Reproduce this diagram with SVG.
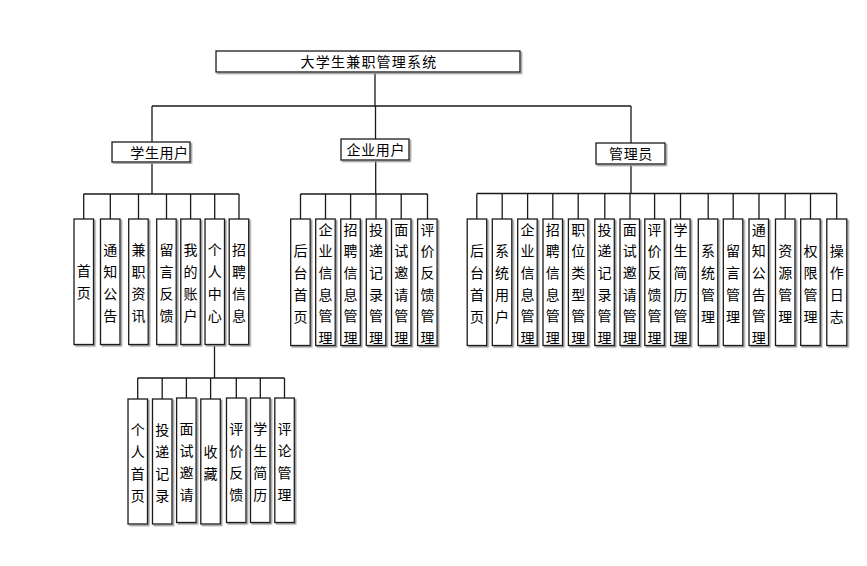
<svg xmlns="http://www.w3.org/2000/svg" width="867" height="566" viewBox="0 0 867 566">
<defs>
<filter id="ds" x="-20%" y="-5%" width="140%" height="115%">
<feDropShadow dx="1.5" dy="1.5" stdDeviation="0.4" flood-color="#9a9a9a" flood-opacity="1"/>
</filter>
<style>
rect.b{fill:#fff;stroke:#1a1a1a;stroke-width:1.3;filter:url(#ds)}
text{font-family:"Noto Sans CJK SC","Noto Sans",sans-serif;font-size:14px;fill:#000;text-anchor:middle}
text.h{letter-spacing:0.6px}
text.t{letter-spacing:1.2px}
#connectors path{fill:none;stroke:#1a1a1a;stroke-width:1.3}
</style>
</defs>
<rect x="0" y="0" width="867" height="566" fill="#fff"/>

<g id="connectors">
<path d="M375,72V106M152,106H631M152,106V142M375.5,106V139M631,106V143"/>
<path d="M152,162V194M83.5,194H239M83.7,194V219M110.3,194V219M138.5,194V219M166.5,194V219M190.6,194V219M214.7,194V219M239,194V219"/>
<path d="M214.5,344.5V378M137.7,378H284.5M137.7,378V399M162.2,378V399M186.4,378V399M210.6,378V399M236.3,378V399M260.3,378V399M284.5,378V399"/>
<path d="M375.7,160V194M300.5,194H427.5M300.5,194V219M325.5,194V219M350.6,194V219M376,194V219M401.2,194V219M427.5,194V219"/>
<path d="M631,164V193.5M476.8,193.5H836.7M476.8,193.5V219M502.2,193.5V219M527.6,193.5V219M552.8,193.5V219M578.2,193.5V219M604.8,193.5V219M630,193.5V219M654.6,193.5V219M680.5,193.5V219M708.2,193.5V219M733.2,193.5V219M759,193.5V219M785.2,193.5V219M810.5,193.5V219M836.7,193.5V219"/>
</g>

<g id="root"><rect class="b" x="216" y="51" width="304" height="21"/><text class="t" x="369" y="67">大学生兼职管理系统</text></g>

<g id="student"><rect class="b" x="112" y="142" width="78" height="20"/><text class="h" x="159.5" y="157.5">学生用户</text></g>
<g id="company"><rect class="b" x="341" y="139" width="68" height="21"/><text class="h" x="375.8" y="155">企业用户</text></g>
<g id="admin"><rect class="b" x="596" y="143" width="69" height="21"/><text class="h" x="631" y="159">管理员</text></g>

<!-- student children -->
<g id="s1"><rect class="b" x="74" y="219" width="19.5" height="125.5"/><text x="83.7" y="276"><tspan x="83.7">首</tspan><tspan x="83.7" dy="22">页</tspan></text></g>
<g id="s2"><rect class="b" x="100.5" y="219" width="19.5" height="125.5"/><text x="110.3" y="255"><tspan x="110.3">通</tspan><tspan x="110.3" dy="22">知</tspan><tspan x="110.3" dy="22">公</tspan><tspan x="110.3" dy="22">告</tspan></text></g>
<g id="s3"><rect class="b" x="128.7" y="219" width="19.5" height="125.5"/><text x="138.5" y="255"><tspan x="138.5">兼</tspan><tspan x="138.5" dy="22">职</tspan><tspan x="138.5" dy="22">资</tspan><tspan x="138.5" dy="22">讯</tspan></text></g>
<g id="s4"><rect class="b" x="156.7" y="219" width="19.5" height="125.5"/><text x="166.5" y="255"><tspan x="166.5">留</tspan><tspan x="166.5" dy="22">言</tspan><tspan x="166.5" dy="22">反</tspan><tspan x="166.5" dy="22">馈</tspan></text></g>
<g id="s5"><rect class="b" x="180.8" y="219" width="19.5" height="125.5"/><text x="190.6" y="255"><tspan x="190.6">我</tspan><tspan x="190.6" dy="22">的</tspan><tspan x="190.6" dy="22">账</tspan><tspan x="190.6" dy="22">户</tspan></text></g>
<g id="s6"><rect class="b" x="205" y="219" width="19.5" height="125.5"/><text x="214.7" y="255"><tspan x="214.7">个</tspan><tspan x="214.7" dy="22">人</tspan><tspan x="214.7" dy="22">中</tspan><tspan x="214.7" dy="22">心</tspan></text></g>
<g id="s7"><rect class="b" x="229.2" y="219" width="19.5" height="125.5"/><text x="239" y="255"><tspan x="239">招</tspan><tspan x="239" dy="22">聘</tspan><tspan x="239" dy="22">信</tspan><tspan x="239" dy="22">息</tspan></text></g>

<!-- personal center children -->
<g id="p1"><rect class="b" x="128" y="399" width="19.5" height="125"/><text x="137.7" y="434.5"><tspan x="137.7">个</tspan><tspan x="137.7" dy="22">人</tspan><tspan x="137.7" dy="22">首</tspan><tspan x="137.7" dy="22">页</tspan></text></g>
<g id="p2"><rect class="b" x="152.5" y="399" width="19.5" height="125"/><text x="162.2" y="434.5"><tspan x="162.2">投</tspan><tspan x="162.2" dy="22">递</tspan><tspan x="162.2" dy="22">记</tspan><tspan x="162.2" dy="22">录</tspan></text></g>
<g id="p3"><rect class="b" x="176.6" y="398" width="19.5" height="124.5"/><text x="186.4" y="433.5"><tspan x="186.4">面</tspan><tspan x="186.4" dy="22">试</tspan><tspan x="186.4" dy="22">邀</tspan><tspan x="186.4" dy="22">请</tspan></text></g>
<g id="p4"><rect class="b" x="200.8" y="399" width="19.5" height="125"/><text x="210.6" y="456.5"><tspan x="210.6">收</tspan><tspan x="210.6" dy="22">藏</tspan></text></g>
<g id="p5"><rect class="b" x="226.5" y="398" width="19.5" height="124.5"/><text x="236.3" y="433.5"><tspan x="236.3">评</tspan><tspan x="236.3" dy="22">价</tspan><tspan x="236.3" dy="22">反</tspan><tspan x="236.3" dy="22">馈</tspan></text></g>
<g id="p6"><rect class="b" x="250.5" y="398" width="19.5" height="124.5"/><text x="260.3" y="433.5"><tspan x="260.3">学</tspan><tspan x="260.3" dy="22">生</tspan><tspan x="260.3" dy="22">简</tspan><tspan x="260.3" dy="22">历</tspan></text></g>
<g id="p7"><rect class="b" x="274.8" y="398" width="19.5" height="124.5"/><text x="284.5" y="433.5"><tspan x="284.5">评</tspan><tspan x="284.5" dy="22">论</tspan><tspan x="284.5" dy="22">管</tspan><tspan x="284.5" dy="22">理</tspan></text></g>

<!-- company children -->
<g id="c1"><rect class="b" x="290.7" y="219" width="19.5" height="126.5"/><text x="300.5" y="256"><tspan x="300.5">后</tspan><tspan x="300.5" dy="22">台</tspan><tspan x="300.5" dy="22">首</tspan><tspan x="300.5" dy="22">页</tspan></text></g>
<g id="c2"><rect class="b" x="315.7" y="219" width="19.5" height="126.5"/><text x="325.5" y="234.5"><tspan x="325.5">企</tspan><tspan x="325.5" dy="21.7">业</tspan><tspan x="325.5" dy="21.7">信</tspan><tspan x="325.5" dy="21.7">息</tspan><tspan x="325.5" dy="21.7">管</tspan><tspan x="325.5" dy="21.7">理</tspan></text></g>
<g id="c3"><rect class="b" x="340.8" y="219" width="19.5" height="126.5"/><text x="350.6" y="234.5"><tspan x="350.6">招</tspan><tspan x="350.6" dy="21.7">聘</tspan><tspan x="350.6" dy="21.7">信</tspan><tspan x="350.6" dy="21.7">息</tspan><tspan x="350.6" dy="21.7">管</tspan><tspan x="350.6" dy="21.7">理</tspan></text></g>
<g id="c4"><rect class="b" x="366.3" y="219" width="19.5" height="126.5"/><text x="376" y="234.5"><tspan x="376">投</tspan><tspan x="376" dy="21.7">递</tspan><tspan x="376" dy="21.7">记</tspan><tspan x="376" dy="21.7">录</tspan><tspan x="376" dy="21.7">管</tspan><tspan x="376" dy="21.7">理</tspan></text></g>
<g id="c5"><rect class="b" x="391.5" y="219" width="19.5" height="126.5"/><text x="401.2" y="234.5"><tspan x="401.2">面</tspan><tspan x="401.2" dy="21.7">试</tspan><tspan x="401.2" dy="21.7">邀</tspan><tspan x="401.2" dy="21.7">请</tspan><tspan x="401.2" dy="21.7">管</tspan><tspan x="401.2" dy="21.7">理</tspan></text></g>
<g id="c6"><rect class="b" x="417.6" y="219" width="19.5" height="126.5"/><text x="427.4" y="234.5"><tspan x="427.4">评</tspan><tspan x="427.4" dy="21.7">价</tspan><tspan x="427.4" dy="21.7">反</tspan><tspan x="427.4" dy="21.7">馈</tspan><tspan x="427.4" dy="21.7">管</tspan><tspan x="427.4" dy="21.7">理</tspan></text></g>

<!-- admin children -->
<g id="a1"><rect class="b" x="467.2" y="219" width="19.5" height="126.5"/><text x="477" y="256"><tspan x="477">后</tspan><tspan x="477" dy="22">台</tspan><tspan x="477" dy="22">首</tspan><tspan x="477" dy="22">页</tspan></text></g>
<g id="a2"><rect class="b" x="492.3" y="219" width="19.5" height="126.5"/><text x="502.1" y="256"><tspan x="502.1">系</tspan><tspan x="502.1" dy="22">统</tspan><tspan x="502.1" dy="22">用</tspan><tspan x="502.1" dy="22">户</tspan></text></g>
<g id="a3"><rect class="b" x="517.7" y="219" width="19.5" height="126.5"/><text x="527.5" y="234.5"><tspan x="527.5">企</tspan><tspan x="527.5" dy="21.7">业</tspan><tspan x="527.5" dy="21.7">信</tspan><tspan x="527.5" dy="21.7">息</tspan><tspan x="527.5" dy="21.7">管</tspan><tspan x="527.5" dy="21.7">理</tspan></text></g>
<g id="a4"><rect class="b" x="543" y="219" width="19.5" height="126.5"/><text x="552.8" y="234.5"><tspan x="552.8">招</tspan><tspan x="552.8" dy="21.7">聘</tspan><tspan x="552.8" dy="21.7">信</tspan><tspan x="552.8" dy="21.7">息</tspan><tspan x="552.8" dy="21.7">管</tspan><tspan x="552.8" dy="21.7">理</tspan></text></g>
<g id="a5"><rect class="b" x="568.4" y="219" width="19.5" height="126.5"/><text x="578.2" y="234.5"><tspan x="578.2">职</tspan><tspan x="578.2" dy="21.7">位</tspan><tspan x="578.2" dy="21.7">类</tspan><tspan x="578.2" dy="21.7">型</tspan><tspan x="578.2" dy="21.7">管</tspan><tspan x="578.2" dy="21.7">理</tspan></text></g>
<g id="a6"><rect class="b" x="594.8" y="219" width="19.5" height="126.5"/><text x="604.6" y="234.5"><tspan x="604.6">投</tspan><tspan x="604.6" dy="21.7">递</tspan><tspan x="604.6" dy="21.7">记</tspan><tspan x="604.6" dy="21.7">录</tspan><tspan x="604.6" dy="21.7">管</tspan><tspan x="604.6" dy="21.7">理</tspan></text></g>
<g id="a7"><rect class="b" x="620" y="219" width="19.5" height="126.5"/><text x="629.8" y="234.5"><tspan x="629.8">面</tspan><tspan x="629.8" dy="21.7">试</tspan><tspan x="629.8" dy="21.7">邀</tspan><tspan x="629.8" dy="21.7">请</tspan><tspan x="629.8" dy="21.7">管</tspan><tspan x="629.8" dy="21.7">理</tspan></text></g>
<g id="a8"><rect class="b" x="644.8" y="219" width="19.5" height="126.5"/><text x="654.6" y="234.5"><tspan x="654.6">评</tspan><tspan x="654.6" dy="21.7">价</tspan><tspan x="654.6" dy="21.7">反</tspan><tspan x="654.6" dy="21.7">馈</tspan><tspan x="654.6" dy="21.7">管</tspan><tspan x="654.6" dy="21.7">理</tspan></text></g>
<g id="a9"><rect class="b" x="670.6" y="219" width="19.5" height="126.5"/><text x="680.4" y="234.5"><tspan x="680.4">学</tspan><tspan x="680.4" dy="21.7">生</tspan><tspan x="680.4" dy="21.7">简</tspan><tspan x="680.4" dy="21.7">历</tspan><tspan x="680.4" dy="21.7">管</tspan><tspan x="680.4" dy="21.7">理</tspan></text></g>
<g id="a10"><rect class="b" x="698.3" y="219" width="19.5" height="126.5"/><text x="708.1" y="256"><tspan x="708.1">系</tspan><tspan x="708.1" dy="22">统</tspan><tspan x="708.1" dy="22">管</tspan><tspan x="708.1" dy="22">理</tspan></text></g>
<g id="a11"><rect class="b" x="723.3" y="219" width="19.5" height="126.5"/><text x="733.1" y="256"><tspan x="733.1">留</tspan><tspan x="733.1" dy="22">言</tspan><tspan x="733.1" dy="22">管</tspan><tspan x="733.1" dy="22">理</tspan></text></g>
<g id="a12"><rect class="b" x="749" y="219" width="19.5" height="126.5"/><text x="758.8" y="234.5"><tspan x="758.8">通</tspan><tspan x="758.8" dy="21.7">知</tspan><tspan x="758.8" dy="21.7">公</tspan><tspan x="758.8" dy="21.7">告</tspan><tspan x="758.8" dy="21.7">管</tspan><tspan x="758.8" dy="21.7">理</tspan></text></g>
<g id="a13"><rect class="b" x="775.5" y="219" width="19.5" height="126.5"/><text x="785.3" y="256"><tspan x="785.3">资</tspan><tspan x="785.3" dy="22">源</tspan><tspan x="785.3" dy="22">管</tspan><tspan x="785.3" dy="22">理</tspan></text></g>
<g id="a14"><rect class="b" x="800.7" y="219" width="19.5" height="126.5"/><text x="810.5" y="256"><tspan x="810.5">权</tspan><tspan x="810.5" dy="22">限</tspan><tspan x="810.5" dy="22">管</tspan><tspan x="810.5" dy="22">理</tspan></text></g>
<g id="a15"><rect class="b" x="826.8" y="219" width="20" height="126.5"/><text x="836.8" y="256"><tspan x="836.8">操</tspan><tspan x="836.8" dy="22">作</tspan><tspan x="836.8" dy="22">日</tspan><tspan x="836.8" dy="22">志</tspan></text></g>
</svg>
